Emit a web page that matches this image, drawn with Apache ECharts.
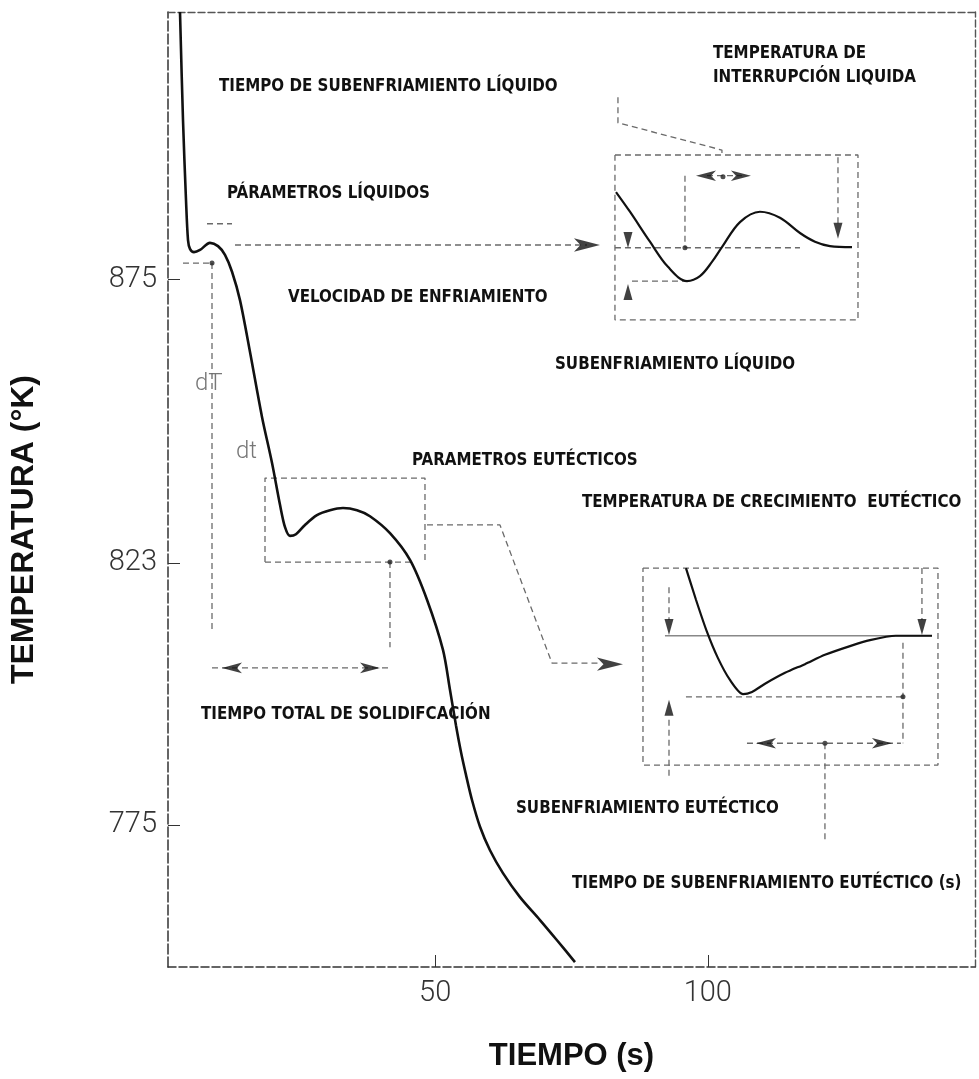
<!DOCTYPE html>
<html><head><meta charset="utf-8">
<script src="https://cdn.jsdelivr.net/npm/echarts@6/dist/echarts.min.js"></script>
<style>html,body{margin:0;padding:0;background:#fff}#c{width:979px;height:1079px}</style>
</head><body><div id="c"></div>
<script>
// ---- axis ticks ----
const xTicks = [50, 100];
const yTicks = [775, 823, 875];

// ---- main cooling curve (time s, temperature K) ----
const curveTime = [3.20,3.75,4.30,4.67,5.03,5.77,6.87,8.70,10.17,11.45,12.74,14.20,16.04,18.24,20.07,21.54,22.46,23.37,24.47,26.12,28.32,30.71,33.09,35.66,38.04,41.71,45.38,48.50,51.43,52.71,53.81,54.73,55.65,56.75,58.22,60.05,62.43,65.55,69.22,72.34,75.64];
const curveTemp = [924.0,904.2,889.6,882.2,880.6,880.0,880.4,881.7,881.1,879.5,876.4,871.2,861.7,849.8,841.4,833.7,829.6,828.0,828.3,830.0,831.8,832.7,833.1,832.7,831.6,828.5,823.6,816.3,807.1,799.8,793.3,788.4,784.2,779.6,774.7,770.4,766.2,761.8,757.6,753.9,749.9];

// ---- liquid detail inset curve ----
const liqTime = [83.16,85.72,89.39,92.69,96.18,98.56,100.76,102.59,105.90,109.56,113.23,116.90,119.65,122.40,126.44];
const liqTemp = [891.0,887.4,881.9,877.3,874.7,875.6,878.2,880.9,885.5,887.4,886.3,883.5,881.9,881.1,880.9];

// ---- eutectic detail inset curve ----
const eutTime = [95.99,97.83,99.85,101.86,104.06,106.45,108.10,110.49,114.16,117.82,121.48,126.07,129.74,134.50,141.11];
const eutTemp = [822.1,816.3,810.4,805.6,801.6,799.0,799.4,800.9,802.9,804.5,806.2,807.8,808.9,809.7,809.7];

// ---- guide lines (time, temperature) ----
const liquidLeader = [[13.29,881.3],[77.84,881.3]];
const liquidBox = [[82.97,897.8],[127.54,897.8],[127.54,867.6],[82.97,867.6],[82.97,897.8]];
const liquidRefLine = [[82.97,880.8],[116.90,880.8]];
const liquidUnderLine = [[86.09,874.7],[96.18,874.7]];
const liquidTimeVert = [[95.81,894.0],[95.81,880.8]];
const liquidTimeLine = [[99.85,894.0],[106.26,894.0]];
const liquidRightVert = [[123.87,897.4],[123.87,885.2]];
const interruptLeader = [[83.52,908.4],[83.52,903.7],[102.59,898.7],[102.59,897.8]];
const liquidMark1 = [[3.75,878.0],[9.07,878.0]];
const liquidMark2 = [[8.15,885.2],[12.74,885.2]];
const rateLine = [[9.07,878.0],[9.07,810.8]];
const eutFrame = [[18.79,823.2],[18.79,838.6],[48.13,838.6],[48.13,823.6]];
const eutBase = [[18.79,823.2],[45.38,823.2]];
const eutDrop = [[41.71,823.2],[41.71,807.6]];
const totalTimeLine = [[9.07,803.8],[41.71,803.8]];
const eutLeader = [[48.50,830.0],[61.88,830.0],[71.42,804.7],[80.22,804.7]];
const eutBox = [[88.11,822.1],[142.21,822.1],[142.21,786.0],[88.11,786.0],[88.11,822.1]];
const growthLine = [[92.14,809.7],[141.11,809.7]];
const eutStemL = [[92.88,818.6],[92.88,812.6]];
const eutStemR = [[139.27,822.1],[139.27,812.6]];
const eutLowLine = [[95.99,798.5],[135.79,798.5]];
const eutRightVert = [[135.79,808.4],[135.79,790.0]];
const eutTimeLine = [[107.18,790.0],[135.42,790.0]];
const eutTimeDrop = [[121.48,790.0],[121.48,771.9]];
const eutPinStem = [[92.88,794.3],[92.88,783.8]];

// ---- markers ----
const leaderArrows = [[80.22,881.3,'right'],[84.44,804.5,'right']];
const timeArrows = [[97.83,894.0,'left'],[107.91,894.0,'right'],[108.83,790.0,'left'],[133.77,790.0,'right'],[10.90,803.8,'left'],[39.88,803.8,'right']];
const pinMarks = [[85.36,882.2,'down'],[85.36,872.7,'up'],[123.87,883.9,'down'],[92.88,811.3,'down'],[139.27,811.3,'down'],[92.88,796.5,'up']];
const dots = [[102.78,893.8],[95.81,880.8],[41.71,823.2],[9.07,878.0],[135.79,798.5],[121.48,790.0]];

// ---- annotation texts ----
const notes = [
  ['TIEMPO DE SUBENFRIAMIENTO LÍQUIDO', 219, 87],
  ['PÁRAMETROS LÍQUIDOS', 227, 194],
  ['VELOCIDAD DE ENFRIAMIENTO', 288, 298],
  ['TEMPERATURA DE', 713, 54],
  ['INTERRUPCIÓN LIQUIDA', 713, 78],
  ['SUBENFRIAMIENTO LÍQUIDO', 555, 365],
  ['PARAMETROS EUTÉCTICOS', 412, 461],
  ['TEMPERATURA DE CRECIMIENTO  EUTÉCTICO', 582, 503],
  ['TIEMPO TOTAL DE SOLIDIFCACIÓN', 201, 715],
  ['SUBENFRIAMIENTO EUTÉCTICO', 516, 809],
  ['TIEMPO DE SUBENFRIAMIENTO EUTÉCTICO (s)', 572, 884]
];
const rateNotes = [['dT', 195, 384], ['dt', 236, 452]];

const zip = (a, b) => a.map((v, i) => [v, b[i]]);
const rot = {up: 0, left: 90, down: 180, right: -90};
const guideStyle = {color: '#6a6a6a', width: 1.3, type: [6, 4]};
function guide(pts, extra) {
  return {type: 'line', data: pts, symbol: 'none', silent: true,
    lineStyle: Object.assign({}, guideStyle, extra || {}), z: 2};
}
function heads(list, symbol, size) {
  return {type: 'scatter', symbol: symbol, symbolSize: size, silent: true, z: 4,
    itemStyle: {color: '#111'},
    data: list.map(d => ({value: [d[0], d[1]], symbolRotate: rot[d[2]]}))};
}

const chart = echarts.init(document.getElementById('c'), null, {renderer: 'canvas'});
const narrow = "'Liberation Sans Narrow', 'Arial Narrow', 'DejaVu Sans Condensed', sans-serif";
const frameLine = {show: true, lineStyle: {color: '#555', width: 1.4, type: [7, 3]}};

chart.setOption({
  animation: false,
  backgroundColor: '#fff',
  grid: {left: 168, right: 4, top: 12, bottom: 112, containLabel: false},
  xAxis: [{
    type: 'value', min: 1, max: 149, position: 'bottom',
    axisLine: {show: true, lineStyle: {color: '#333', width: 1.5, type: [8, 3]}},
    axisTick: {show: true, inside: true, length: 12, customValues: xTicks, lineStyle: {color: '#333'}},
    axisLabel: {customValues: xTicks, fontSize: 29, fontFamily: 'Roboto', fontWeight: 300, color: '#333', margin: 12},
    splitLine: {show: false},
    name: 'TIEMPO (s)', nameLocation: 'middle', nameGap: 74,
    nameTextStyle: {fontSize: 31, fontWeight: 'bold', fontFamily: "'Liberation Sans', Arial, sans-serif", color: '#111'}
  }, {
    type: 'value', min: 1, max: 149, position: 'top',
    axisLine: frameLine, axisTick: {show: false}, axisLabel: {show: false}, splitLine: {show: false}
  }],
  yAxis: [{
    type: 'value', min: 749, max: 924, position: 'left',
    axisLine: {show: true, lineStyle: {color: '#333', width: 1.5, type: [10, 3]}},
    axisTick: {show: true, inside: true, length: 12, customValues: yTicks, lineStyle: {color: '#333'}},
    axisLabel: {customValues: yTicks, fontSize: 29, fontFamily: 'Roboto', fontWeight: 300, color: '#333', margin: 11},
    splitLine: {show: false},
    name: 'TEMPERATURA (°K)', nameLocation: 'middle', nameGap: 128,
    nameTextStyle: {fontSize: 32, fontWeight: 'bold', fontFamily: "'Liberation Sans', Arial, sans-serif", color: '#111', padding: [0, 80, 0, 0]}
  }, {
    type: 'value', min: 749, max: 924, position: 'right',
    axisLine: frameLine, axisTick: {show: false}, axisLabel: {show: false}, splitLine: {show: false}
  }],
  series: [
    {type: 'line', data: zip(curveTime, curveTemp), symbol: 'none', smooth: 0.3,
      lineStyle: {color: '#111', width: 2.6}, z: 5, silent: true},
    {type: 'line', data: zip(liqTime, liqTemp), symbol: 'none', smooth: 0.35,
      lineStyle: {color: '#111', width: 2.2}, z: 5, silent: true},
    {type: 'line', data: zip(eutTime, eutTemp), symbol: 'none', smooth: 0.25,
      lineStyle: {color: '#111', width: 2.2}, z: 5, silent: true},
    guide(liquidLeader), guide(liquidBox), guide(liquidRefLine), guide(liquidUnderLine),
    guide(liquidTimeVert), guide(liquidTimeLine), guide(liquidRightVert), guide(interruptLeader),
    guide(liquidMark1), guide(liquidMark2), guide(rateLine),
    guide(eutFrame), guide(eutBase), guide(eutDrop), guide(totalTimeLine), guide(eutLeader),
    guide(eutBox), guide(growthLine, {type: 'solid', color: '#888'}), guide(eutStemL), guide(eutStemR),
    guide(eutLowLine), guide(eutRightVert), guide(eutTimeLine), guide(eutTimeDrop), guide(eutPinStem),
    heads(leaderArrows, 'arrow', [10, 26]),
    heads(timeArrows, 'arrow', [8, 20]),
    heads(pinMarks, 'triangle', [9, 16]),
    {type: 'scatter', data: dots, symbol: 'circle', symbolSize: 5, itemStyle: {color: '#222'}, silent: true, z: 4}
  ],
  graphic: notes.map(n => ({type: 'text', x: n[1], y: n[2], silent: true,
      style: {text: n[0], fill: '#111', fontSize: 16.8, fontWeight: 'bold', fontFamily: narrow, verticalAlign: 'middle', align: 'left'}}))
    .concat(rateNotes.map(n => ({type: 'text', x: n[1], y: n[2], silent: true,
      style: {text: n[0], fill: '#777', fontSize: 24, fontWeight: 300, fontFamily: 'Roboto', verticalAlign: 'middle', align: 'left'}})))
});
</script>
</body></html>
